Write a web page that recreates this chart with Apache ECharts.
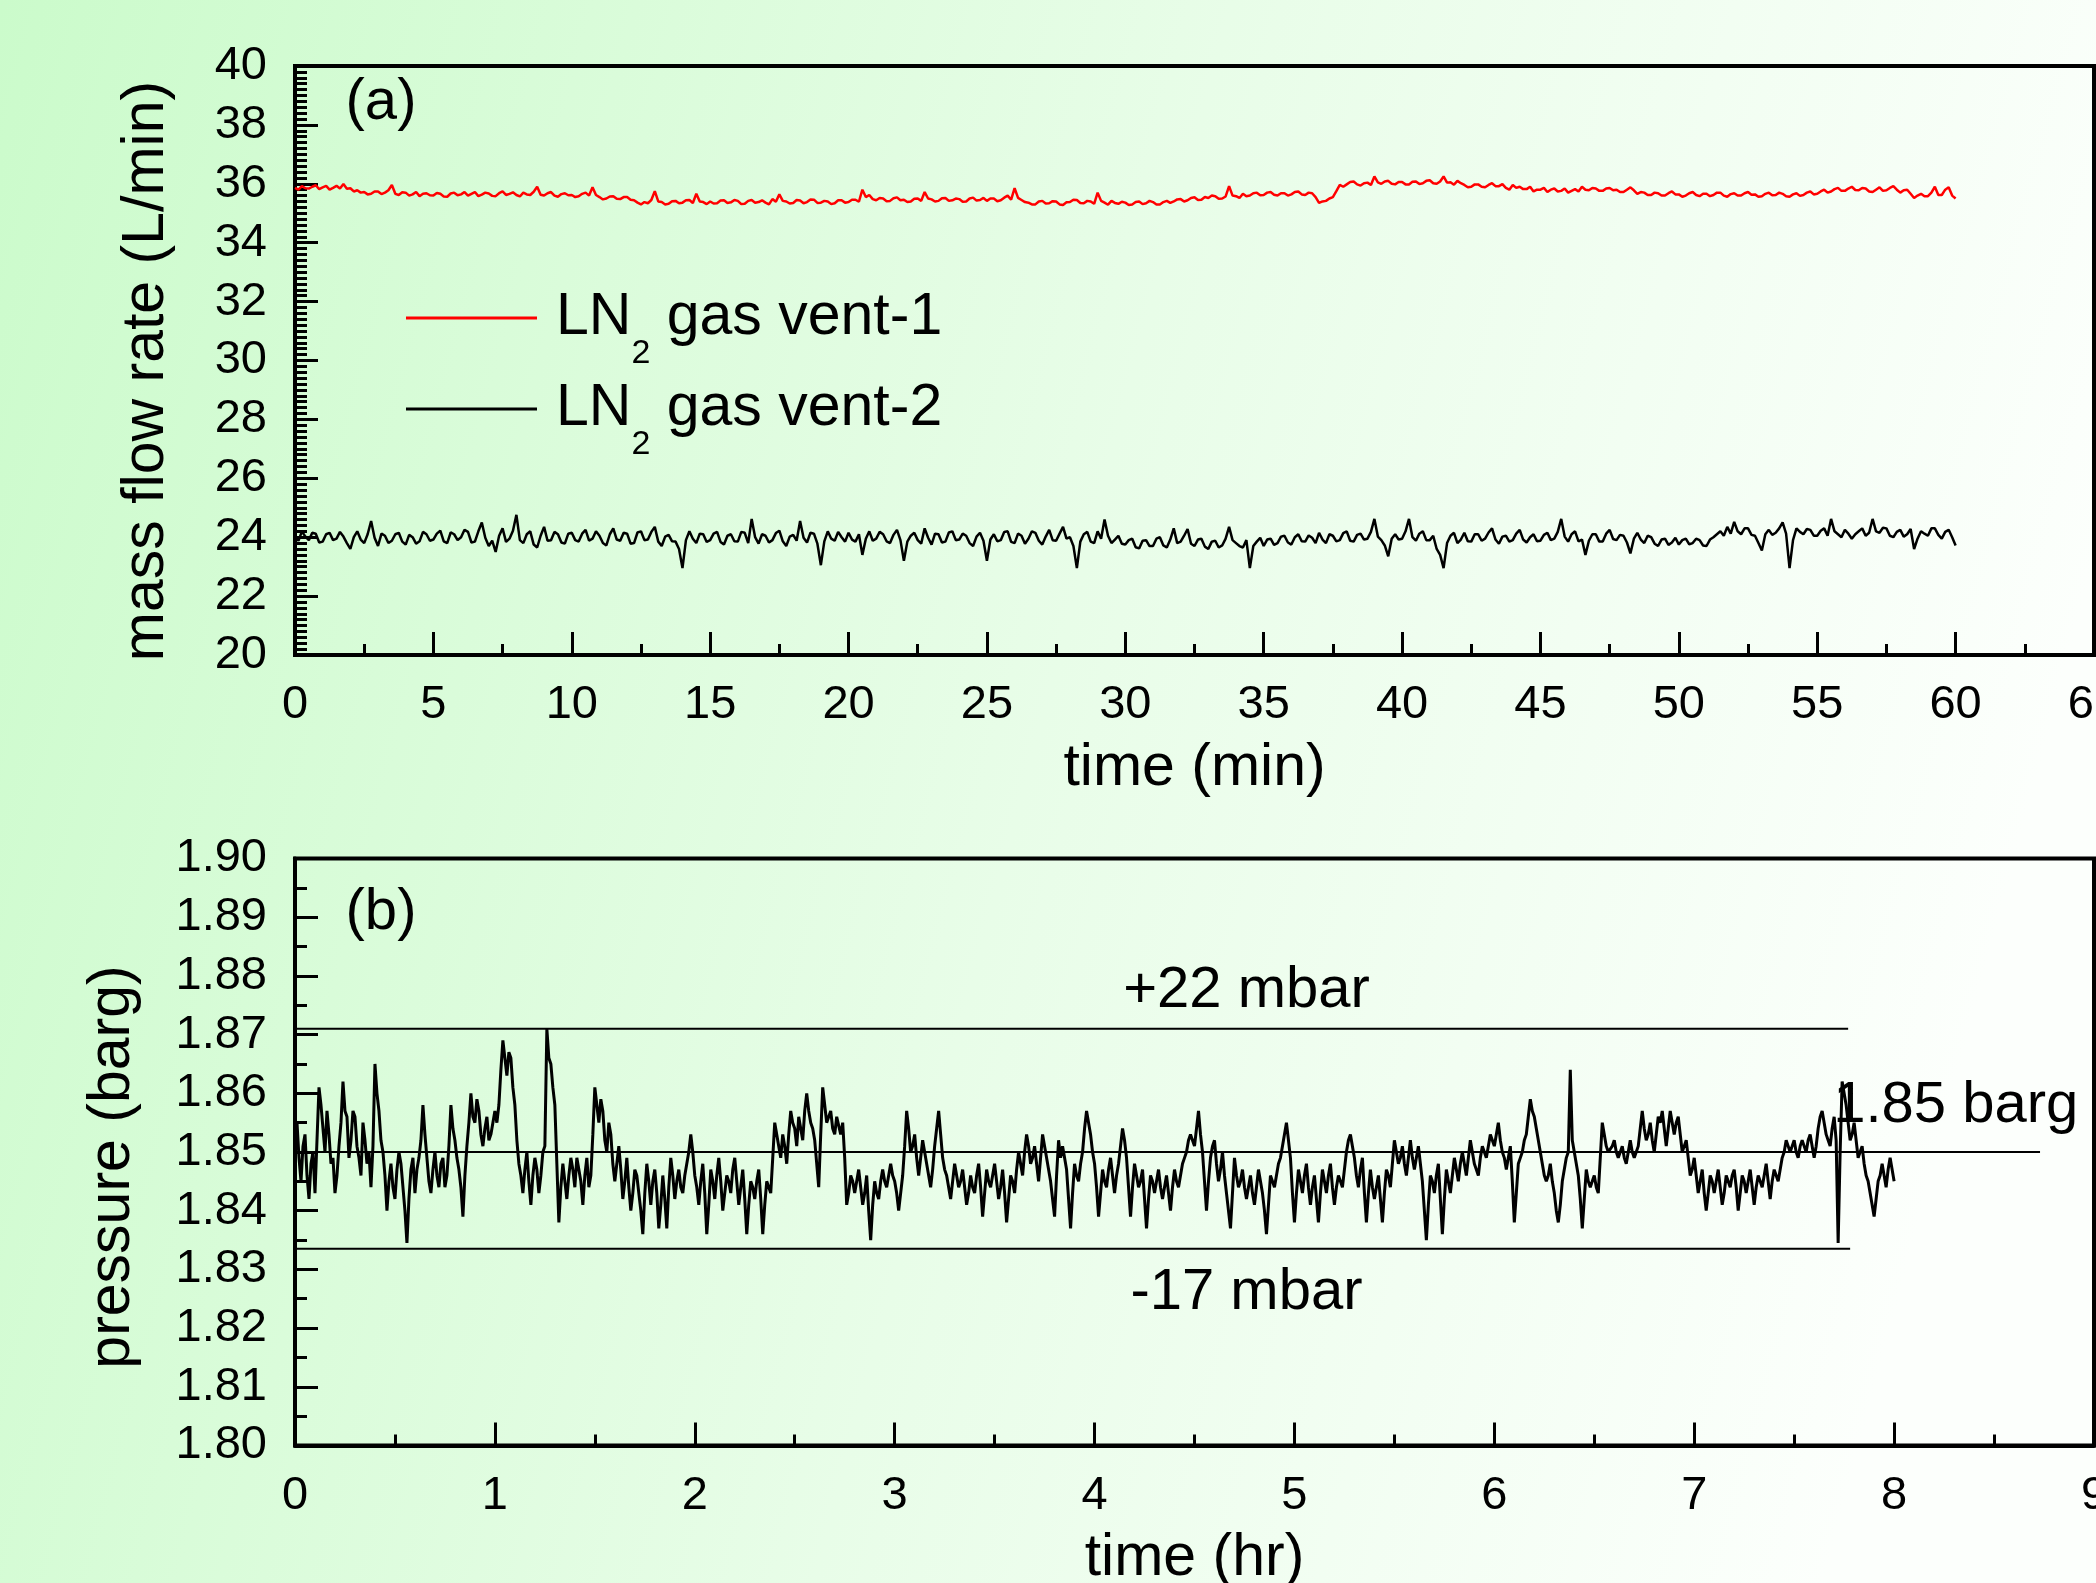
<!DOCTYPE html>
<html>
<head>
<meta charset="utf-8">
<script src="https://cdn.jsdelivr.net/npm/echarts@6/dist/echarts.min.js"></script>
<style>
html,body{margin:0;padding:0;background:#ffffff;overflow:hidden;}
#chart{width:2096px;height:1583px;}
</style>
</head>
<body>
<div id="chart"></div>
<script>
// ---------- DATA ----------
// (a) mass flow rate, sampled every 0.125 min from 0 to 60 min
const flowStepMin = 0.125;
const vent1Name = 'LN2 gas vent-1';
const vent2Name = 'LN2 gas vent-2';
const vent1Flow = [
  35.86,35.80,35.92,35.85,35.84,35.90,35.95,35.82,35.88,35.93,35.80,35.86,35.93,35.84,35.99,35.83,35.85,35.74,35.78,35.70,35.72,35.64,35.66,35.74,35.74,35.65,35.70,35.78,35.96,35.66,35.62,35.71,35.70,35.60,35.64,35.72,35.58,35.66,35.68,35.61,
  35.60,35.69,35.66,35.57,35.56,35.67,35.70,35.61,35.64,35.72,35.60,35.66,35.72,35.58,35.63,35.70,35.67,35.59,35.58,35.68,35.74,35.62,35.66,35.71,35.62,35.57,35.70,35.64,35.62,35.73,35.90,35.63,35.60,35.68,35.72,35.60,35.56,35.65,35.68,35.61,
  35.62,35.55,35.58,35.66,35.70,35.60,35.88,35.62,35.55,35.47,35.50,35.57,35.58,35.49,35.48,35.55,35.55,35.46,35.44,35.36,35.30,35.38,35.34,35.45,35.75,35.40,35.38,35.30,35.32,35.41,35.42,35.34,35.36,35.44,35.45,35.35,35.66,35.40,35.38,35.31,
  35.40,35.33,35.34,35.43,35.44,35.35,35.37,35.45,35.42,35.31,35.32,35.42,35.45,35.36,35.38,35.44,35.36,35.30,35.48,35.39,35.64,35.42,35.40,35.33,35.35,35.45,35.43,35.34,35.38,35.47,35.46,35.35,35.36,35.42,35.40,35.31,35.34,35.44,35.44,35.36,
  35.38,35.46,35.46,35.39,35.80,35.55,35.62,35.48,35.44,35.52,35.50,35.41,35.42,35.51,35.54,35.44,35.46,35.38,35.40,35.49,35.50,35.42,35.72,35.50,35.47,35.40,35.42,35.51,35.52,35.42,35.44,35.50,35.48,35.39,35.40,35.50,35.53,35.43,35.45,35.52,
  35.42,35.50,35.50,35.41,35.44,35.53,35.60,35.46,35.85,35.52,35.45,35.38,35.36,35.30,35.30,35.40,35.42,35.33,35.34,35.41,35.40,35.30,35.28,35.37,35.38,35.46,35.45,35.35,35.34,35.42,35.40,35.32,35.70,35.42,35.36,35.29,35.42,35.35,35.32,35.39,
  35.36,35.28,35.30,35.38,35.40,35.31,35.34,35.42,35.38,35.30,35.30,35.38,35.42,35.35,35.40,35.47,35.48,35.40,35.44,35.52,35.54,35.45,35.46,35.55,35.52,35.60,35.58,35.49,35.50,35.57,35.92,35.60,35.58,35.52,35.66,35.58,35.60,35.68,35.70,35.61,
  35.62,35.70,35.72,35.63,35.60,35.68,35.68,35.60,35.64,35.72,35.74,35.64,35.62,35.70,35.68,35.55,35.35,35.40,35.42,35.50,35.55,35.75,35.96,35.90,35.98,36.06,36.08,35.98,35.94,36.02,36.04,35.96,36.25,36.05,36.00,36.08,36.10,36.00,35.98,36.06,
  36.06,35.98,35.98,36.07,36.08,35.99,36.02,36.10,36.12,36.02,36.00,36.08,36.25,36.04,36.05,35.97,36.10,36.02,35.96,35.88,35.90,35.98,35.98,35.90,35.88,35.96,36.02,35.92,35.92,35.99,35.86,35.80,35.96,35.86,35.90,35.82,35.82,35.90,35.74,35.80,
  35.80,35.86,35.72,35.80,35.84,35.74,35.76,35.84,35.70,35.76,35.82,35.74,35.90,35.80,35.78,35.86,35.84,35.76,35.76,35.84,35.86,35.78,35.80,35.72,35.72,35.80,35.88,35.78,35.66,35.72,35.70,35.62,35.62,35.70,35.68,35.60,35.60,35.68,35.74,35.64,
  35.64,35.56,35.60,35.68,35.72,35.62,35.58,35.66,35.66,35.58,35.62,35.70,35.70,35.60,35.56,35.65,35.68,35.60,35.60,35.68,35.72,35.63,35.64,35.56,35.58,35.66,35.70,35.61,35.62,35.70,35.66,35.58,35.56,35.64,35.68,35.59,35.62,35.70,35.74,35.64,
  35.66,35.74,35.80,35.70,35.74,35.82,35.86,35.76,35.76,35.84,35.90,35.79,35.78,35.86,35.84,35.74,35.72,35.80,35.88,35.76,35.78,35.86,35.92,35.80,35.70,35.78,35.80,35.66,35.52,35.60,35.66,35.58,35.58,35.70,35.90,35.62,35.62,35.80,35.88,35.60,
  35.50
];
const vent2Flow = [
  24.05,23.88,24.20,24.02,23.90,24.15,24.12,23.82,23.85,24.10,24.15,23.90,23.95,24.18,24.02,23.80,23.60,24.00,24.20,23.92,23.80,24.10,24.55,23.98,23.70,24.12,24.05,23.80,23.88,24.10,24.15,23.85,23.75,24.08,24.00,23.78,23.86,24.18,24.10,23.88,
  23.92,24.12,24.22,23.86,23.80,24.16,24.10,23.90,24.00,24.25,24.18,23.82,23.85,24.20,24.50,23.98,23.70,23.88,23.50,24.05,24.30,23.84,23.95,24.22,24.76,23.90,23.80,24.10,24.20,23.75,23.65,24.05,24.35,23.88,23.90,24.18,24.10,23.82,23.78,24.12,
  24.15,23.90,23.85,24.12,24.25,23.88,23.95,24.20,24.05,23.80,23.72,24.10,24.30,23.92,23.88,24.15,24.12,23.78,23.80,24.16,24.20,23.90,23.92,24.18,24.35,23.85,23.70,24.02,24.08,23.86,23.85,23.60,22.95,23.90,24.20,23.95,23.80,24.12,24.10,23.84,
  23.90,24.12,24.18,23.84,23.75,24.05,24.10,23.86,23.85,24.18,24.15,23.80,24.62,24.00,23.78,24.10,24.05,23.82,23.90,24.14,24.22,23.86,23.70,24.02,24.08,23.88,24.55,23.98,23.82,24.15,24.12,23.78,23.05,23.86,24.20,23.95,23.88,24.18,24.00,23.85,
  24.15,23.92,23.85,24.10,23.40,23.95,24.20,23.88,23.95,24.18,24.10,23.86,23.80,24.08,24.25,23.90,23.20,23.85,24.05,24.15,23.90,23.78,24.30,23.98,23.75,24.12,24.10,23.82,23.85,24.16,24.20,23.90,23.92,24.12,24.05,23.80,23.70,24.02,24.15,23.88,
  23.20,23.92,24.10,23.86,23.90,24.18,24.20,23.84,23.80,24.12,24.05,23.78,23.95,24.20,24.15,23.88,23.75,24.02,24.25,23.90,23.88,24.12,24.35,23.95,24.00,23.70,22.95,23.85,24.10,24.18,23.85,23.80,24.20,23.95,24.60,24.05,23.80,23.92,24.05,23.78,
  23.75,23.90,23.95,23.66,23.62,23.88,23.90,23.70,23.70,23.95,24.00,23.72,23.65,23.92,24.30,23.80,23.85,24.05,24.28,23.78,23.70,23.92,23.95,23.68,23.60,23.85,23.88,23.65,23.72,23.95,24.35,23.90,23.80,23.70,23.65,23.90,22.95,23.70,23.85,23.98,
  23.70,23.92,23.95,23.74,23.80,24.02,24.05,23.82,23.75,24.00,24.10,23.86,23.85,24.06,23.98,23.80,24.15,23.92,23.80,24.10,24.05,23.86,23.90,24.14,24.20,23.88,23.85,24.08,24.12,23.92,23.95,24.18,24.62,24.02,23.90,23.72,23.35,23.95,24.10,23.92,
  23.95,24.20,24.62,24.00,23.88,24.12,24.20,23.90,23.90,24.05,23.60,23.40,22.95,23.80,24.05,24.15,23.80,23.92,24.15,23.86,23.85,24.10,24.10,23.88,23.95,24.16,24.30,23.92,23.78,24.02,24.05,23.85,23.90,24.12,24.25,23.92,23.82,24.00,24.10,23.86,
  23.88,24.08,24.15,23.90,23.95,24.18,24.62,24.02,23.85,24.10,24.20,23.86,23.92,23.40,23.88,24.10,24.10,23.85,23.85,24.12,24.25,23.94,23.90,24.08,24.05,23.82,23.45,23.95,24.15,23.92,23.80,24.05,24.00,23.78,23.70,23.92,23.95,23.74,23.82,23.98,
  23.75,23.90,23.95,23.76,23.80,23.95,23.90,23.72,23.70,23.92,24.00,24.10,24.20,24.05,24.35,24.12,24.52,24.20,24.10,24.30,24.30,24.08,24.05,23.80,23.55,24.10,24.25,24.08,24.15,24.30,24.50,24.12,22.95,23.90,24.30,24.18,24.10,24.28,24.25,24.05,
  24.05,24.22,24.30,24.05,24.62,24.20,24.10,24.00,24.25,24.12,23.95,24.10,24.20,24.30,24.05,24.15,24.62,24.20,24.15,24.32,24.30,24.05,24.00,24.18,24.25,24.02,24.10,24.28,23.60,23.95,24.20,24.12,24.05,24.30,24.30,24.08,23.95,24.18,24.25,24.00,
  23.72
];

// (b) pressure, sampled every 0.01 hr from 0 to 8 hr
const pressureStepHr = 0.01;
const pressure = [
  1.852,1.855,1.849,1.845,1.851,1.853,1.846,1.842,1.848,1.850,1.843,1.852,1.861,1.858,1.854,1.850,1.857,1.853,1.848,1.849,
  1.843,1.846,1.851,1.855,1.862,1.857,1.856,1.849,1.852,1.857,1.856,1.851,1.849,1.846,1.855,1.852,1.848,1.850,1.844,1.851,
  1.865,1.860,1.857,1.852,1.850,1.846,1.840,1.845,1.848,1.844,1.842,1.847,1.850,1.848,1.844,1.840,1.8345,1.842,1.847,1.849,
  1.843,1.847,1.849,1.852,1.858,1.853,1.849,1.845,1.843,1.847,1.850,1.846,1.844,1.848,1.849,1.844,1.846,1.851,1.858,1.854,
  1.852,1.849,1.847,1.844,1.839,1.846,1.851,1.855,1.860,1.856,1.855,1.859,1.857,1.853,1.851,1.854,1.856,1.852,1.853,1.855,
  1.857,1.855,1.858,1.864,1.869,1.866,1.863,1.867,1.866,1.861,1.858,1.852,1.848,1.846,1.843,1.847,1.850,1.845,1.841,1.846,
  1.849,1.847,1.843,1.846,1.850,1.851,1.871,1.866,1.865,1.861,1.858,1.848,1.838,1.844,1.848,1.845,1.842,1.846,1.849,1.847,
  1.844,1.849,1.847,1.845,1.841,1.846,1.849,1.844,1.846,1.853,1.861,1.858,1.855,1.859,1.857,1.852,1.850,1.855,1.853,1.848,
  1.845,1.848,1.851,1.847,1.842,1.845,1.849,1.844,1.840,1.843,1.847,1.846,1.843,1.840,1.836,1.843,1.848,1.845,1.841,1.845,
  1.847,1.843,1.837,1.841,1.846,1.842,1.837,1.844,1.849,1.846,1.842,1.845,1.847,1.844,1.843,1.846,1.848,1.850,1.853,1.850,
  1.846,1.844,1.841,1.845,1.848,1.843,1.836,1.841,1.847,1.845,1.842,1.846,1.849,1.845,1.840,1.843,1.846,1.845,1.843,1.847,
  1.849,1.845,1.841,1.844,1.847,1.842,1.836,1.841,1.845,1.844,1.842,1.845,1.847,1.842,1.836,1.841,1.845,1.845,1.843,1.849,
  1.855,1.853,1.851,1.849,1.853,1.851,1.848,1.853,1.857,1.855,1.854,1.851,1.856,1.854,1.852,1.857,1.860,1.857,1.855,1.854,
  1.852,1.848,1.844,1.853,1.861,1.858,1.855,1.856,1.857,1.854,1.853,1.856,1.856,1.853,1.855,1.849,1.841,1.843,1.846,1.845,
  1.843,1.845,1.847,1.844,1.841,1.843,1.846,1.840,1.835,1.841,1.845,1.843,1.842,1.845,1.847,1.845,1.844,1.846,1.848,1.846,
  1.845,1.843,1.840,1.843,1.846,1.851,1.857,1.854,1.850,1.851,1.853,1.849,1.846,1.849,1.852,1.850,1.848,1.846,1.844,1.847,
  1.851,1.854,1.857,1.853,1.849,1.847,1.846,1.844,1.842,1.845,1.848,1.846,1.844,1.845,1.847,1.844,1.841,1.843,1.846,1.844,
  1.843,1.846,1.848,1.844,1.839,1.843,1.847,1.845,1.844,1.846,1.848,1.845,1.842,1.844,1.847,1.843,1.838,1.842,1.846,1.845,
  1.843,1.847,1.850,1.848,1.846,1.850,1.853,1.851,1.848,1.849,1.851,1.848,1.845,1.849,1.853,1.851,1.849,1.847,1.845,1.842,
  1.839,1.846,1.852,1.849,1.851,1.849,1.847,1.842,1.837,1.843,1.848,1.846,1.845,1.848,1.850,1.854,1.857,1.855,1.853,1.850,
  1.848,1.844,1.839,1.843,1.847,1.845,1.844,1.847,1.849,1.846,1.843,1.846,1.848,1.851,1.854,1.852,1.849,1.844,1.839,1.844,
  1.848,1.846,1.844,1.845,1.847,1.842,1.837,1.842,1.846,1.845,1.843,1.845,1.847,1.844,1.842,1.844,1.846,1.843,1.840,1.844,
  1.847,1.845,1.844,1.846,1.848,1.849,1.850,1.852,1.853,1.852,1.851,1.854,1.857,1.853,1.850,1.845,1.840,1.845,1.849,1.851,
  1.852,1.848,1.845,1.847,1.850,1.846,1.843,1.840,1.837,1.843,1.849,1.846,1.844,1.845,1.847,1.844,1.842,1.844,1.846,1.843,
  1.841,1.844,1.847,1.845,1.843,1.840,1.836,1.841,1.846,1.845,1.844,1.846,1.848,1.849,1.851,1.853,1.855,1.852,1.849,1.843,
  1.838,1.843,1.847,1.845,1.843,1.846,1.848,1.844,1.841,1.844,1.846,1.842,1.838,1.843,1.847,1.845,1.843,1.846,1.848,1.844,
  1.841,1.844,1.846,1.845,1.844,1.847,1.850,1.852,1.853,1.851,1.849,1.846,1.844,1.847,1.849,1.843,1.838,1.843,1.847,1.844,
  1.842,1.844,1.846,1.842,1.838,1.843,1.847,1.846,1.844,1.848,1.852,1.850,1.848,1.849,1.851,1.848,1.846,1.849,1.852,1.849,
  1.847,1.849,1.851,1.848,1.845,1.840,1.835,1.841,1.846,1.845,1.843,1.846,1.848,1.842,1.836,1.842,1.847,1.845,1.843,1.846,
  1.849,1.847,1.845,1.848,1.850,1.848,1.846,1.849,1.852,1.850,1.848,1.847,1.846,1.849,1.851,1.850,1.849,1.851,1.853,1.852,
  1.851,1.853,1.855,1.852,1.850,1.849,1.847,1.849,1.851,1.845,1.838,1.843,1.848,1.849,1.850,1.852,1.853,1.856,1.859,1.857,
  1.856,1.854,1.852,1.850,1.848,1.846,1.845,1.846,1.848,1.845,1.843,1.840,1.838,1.841,1.845,1.847,1.849,1.850,1.864,1.852,
  1.850,1.848,1.846,1.842,1.837,1.842,1.847,1.845,1.844,1.845,1.846,1.844,1.843,1.849,1.855,1.853,1.851,1.850,1.850,1.851,
  1.852,1.850,1.849,1.850,1.851,1.849,1.848,1.850,1.852,1.850,1.849,1.850,1.851,1.854,1.857,1.854,1.852,1.853,1.855,1.852,
  1.850,1.853,1.856,1.855,1.857,1.854,1.851,1.854,1.857,1.855,1.853,1.855,1.856,1.853,1.850,1.851,1.852,1.849,1.846,1.847,
  1.849,1.846,1.843,1.845,1.847,1.843,1.840,1.843,1.846,1.845,1.843,1.845,1.847,1.844,1.841,1.843,1.846,1.845,1.844,1.846,
  1.847,1.844,1.840,1.843,1.846,1.845,1.843,1.845,1.847,1.844,1.841,1.844,1.846,1.845,1.844,1.846,1.848,1.845,1.842,1.845,
  1.847,1.846,1.845,1.847,1.849,1.850,1.852,1.851,1.850,1.851,1.852,1.850,1.849,1.851,1.852,1.851,1.850,1.852,1.853,1.851,
  1.849,1.851,1.854,1.856,1.857,1.855,1.853,1.852,1.851,1.854,1.856,1.852,1.8345,1.850,1.862,1.860,1.858,1.855,1.852,1.853,
  1.855,1.852,1.849,1.850,1.851,1.848,1.846,1.845,1.843,1.841,1.839,1.842,1.845,1.846,1.848,1.846,1.844,1.847,1.849,1.847,
  1.845
];

// reference levels in panel (b)
const refLevels = [1.871, 1.85, 1.8335];      // +22 mbar, set point, -17 mbar
const refEndsHr = [7.77, 8.73, 7.78];         // where each drawn line stops
const refTexts = ['+22 mbar', '1.85 barg', '-17 mbar'];

// ---------- BUILD ----------
const FONT = "'Liberation Sans', Arial, Helvetica, sans-serif";
const toPairs = (arr, step) => arr.map((v, i) => [+(i * step).toFixed(4), v]);

const chart = echarts.init(document.getElementById('chart'), null, {renderer: 'canvas'});

function axisCommon(extra) {
  return Object.assign({
    type: 'value',
    axisLine: {show: true, onZero: false, lineStyle: {color: '#000', width: 4}},
    axisTick: {show: true, inside: true, length: 23, lineStyle: {color: '#000', width: 3}},
    minorTick: {show: true, length: 11, lineStyle: {color: '#000', width: 3}},
    axisLabel: {color: '#000', fontSize: 47, fontFamily: FONT},
    splitLine: {show: false},
    minorSplitLine: {show: false},
    nameLocation: 'middle',
    nameTextStyle: {color: '#000', fontSize: 59, fontFamily: FONT}
  }, extra);
}

const legendRich = {
  sp: {width: 14},
  n: {fontSize: 59, lineHeight: 70, color: '#000', fontFamily: FONT},
  s: {fontSize: 34, lineHeight: 20, padding: [72, 0, 0, 0], color: '#000', fontFamily: FONT}
};
function legendFor(name, top) {
  return {
    show: true, orient: 'vertical', left: 406, top: top, padding: 0,
    itemWidth: 131, itemHeight: 3, icon: 'rect', selectedMode: false,
    data: [name],
    formatter: n => '{sp| }{n|LN}{s|2}{n|' + n.slice(3) + '}',
    textStyle: {rich: legendRich, fontFamily: FONT, color: '#000'}
  };
}

const noteLabel = {show: true, color: '#000', fontSize: 58, fontFamily: FONT, opacity: 1,
  textBorderWidth: 0, position: [0, 0], align: 'center', verticalAlign: 'middle'};

const gridCommon = {show: true, borderColor: '#000', borderWidth: 4, backgroundColor: 'transparent',
  containLabel: false, outerBoundsMode: 'none'};

const option = {
  animation: false,
  backgroundColor: {
    type: 'linear', x: 0, y: 0, x2: 1, y2: 0.35,
    colorStops: [
      {offset: 0, color: '#cbfbcb'},
      {offset: 0.55, color: '#e8fde8'},
      {offset: 1, color: '#fcfffc'}
    ]
  },
  grid: [
    Object.assign({left: 295, top: 66, width: 1799, height: 589}, gridCommon),
    Object.assign({left: 295, top: 858.5, width: 1799, height: 587}, gridCommon)
  ],
  xAxis: [
    axisCommon({gridIndex: 0, min: 0, max: 65, interval: 5,
      minorTick: {show: true, splitNumber: 2, length: 11, lineStyle: {color: '#000', width: 3}},
      axisLabel: {color: '#000', fontSize: 47, fontFamily: FONT, margin: 27, showMaxLabel: true, hideOverlap: false},
      name: 'time (min)', nameGap: 84}),
    axisCommon({gridIndex: 1, min: 0, max: 9, interval: 1,
      minorTick: {show: true, splitNumber: 2, length: 11, lineStyle: {color: '#000', width: 3}},
      axisLabel: {color: '#000', fontSize: 47, fontFamily: FONT, margin: 27, showMaxLabel: true, hideOverlap: false},
      name: 'time (hr)', nameGap: 84})
  ],
  yAxis: [
    axisCommon({gridIndex: 0, min: 20, max: 40, interval: 2,
      minorTick: {show: true, splitNumber: 10, length: 12, lineStyle: {color: '#000', width: 3}},
      axisLabel: {color: '#000', fontSize: 47, fontFamily: FONT, margin: 28},
      name: 'mass flow rate (L/min)', nameGap: 119,
      nameTextStyle: {color: '#000', fontSize: 59, fontFamily: FONT, padding: [0, 21, 0, 0]}}),
    axisCommon({gridIndex: 1, min: 1.8, max: 1.9, interval: 0.01,
      minorTick: {show: true, splitNumber: 2, length: 12, lineStyle: {color: '#000', width: 3}},
      axisLabel: {color: '#000', fontSize: 47, fontFamily: FONT, margin: 28,
        formatter: v => v.toFixed(2)},
      name: 'pressure (barg)', nameGap: 153,
      nameTextStyle: {color: '#000', fontSize: 59, fontFamily: FONT, padding: [0, 30, 0, 0]}})
  ],
  legend: [legendFor(vent1Name, 265), legendFor(vent2Name, 356)],
  graphic: [
    {type: 'text', x: 381, y: 103, style: {text: '(a)', align: 'center', verticalAlign: 'middle', fill: '#000', font: '58px ' + FONT}},
    {type: 'text', x: 381, y: 913, style: {text: '(b)', align: 'center', verticalAlign: 'middle', fill: '#000', font: '58px ' + FONT}}
  ],
  series: [
    {
      name: vent1Name, type: 'line', xAxisIndex: 0, yAxisIndex: 0,
      data: toPairs(vent1Flow, flowStepMin), showSymbol: false, symbol: 'none',
      lineStyle: {color: '#ff0000', width: 2.5}, itemStyle: {color: '#ff0000'}, silent: true, z: 3
    },
    {
      name: vent2Name, type: 'line', xAxisIndex: 0, yAxisIndex: 0,
      data: toPairs(vent2Flow, flowStepMin), showSymbol: false, symbol: 'none',
      lineStyle: {color: '#000000', width: 2.5}, itemStyle: {color: '#000000'}, silent: true, z: 3
    },
    {
      name: 'pressure', type: 'line', xAxisIndex: 1, yAxisIndex: 1,
      data: toPairs(pressure, pressureStepHr), showSymbol: false, symbol: 'none',
      lineStyle: {color: '#000000', width: 3}, itemStyle: {color: '#000'}, silent: true, z: 3
    },
    ...refLevels.map((lvl, i) => ({
      name: 'ref' + i, type: 'line', xAxisIndex: 1, yAxisIndex: 1,
      data: [[0, lvl], [refEndsHr[i], lvl]], showSymbol: false, symbol: 'none',
      lineStyle: {color: '#000', width: 2}, silent: true, z: 2
    })),
    {
      name: 'notes', type: 'scatter', xAxisIndex: 1, yAxisIndex: 1, symbolSize: 0, silent: true, z: 4,
      itemStyle: {color: '#000', opacity: 1},
      label: noteLabel,
      data: [
        {value: [4.76, 1.8774], label: Object.assign({}, noteLabel, {formatter: refTexts[0]})},
        {value: [7.695, 1.8578], label: Object.assign({}, noteLabel, {align: 'left', formatter: refTexts[1]})},
        {value: [4.76, 1.826], label: Object.assign({}, noteLabel, {formatter: refTexts[2]})}
      ]
    }
  ]
};
chart.setOption(option);
</script>
</body>
</html>
